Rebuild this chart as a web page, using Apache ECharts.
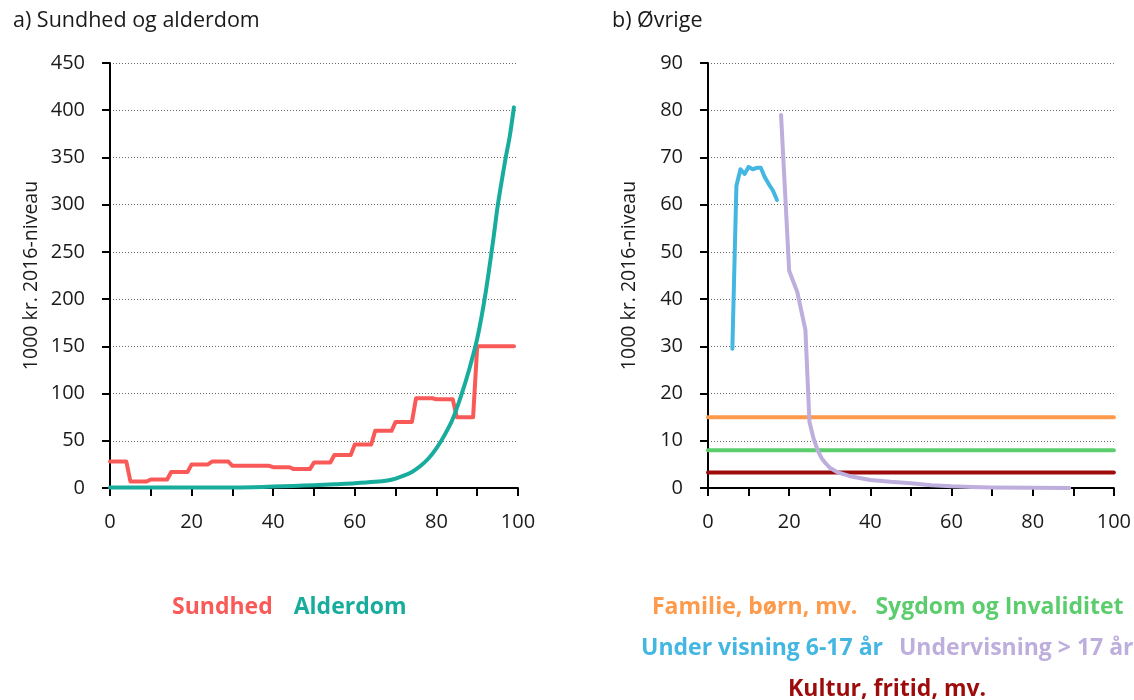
<!DOCTYPE html>
<html>
<head>
<meta charset="utf-8">
<script src="https://cdn.jsdelivr.net/npm/echarts@6/dist/echarts.min.js"></script>
<style>
  html, body { margin: 0; padding: 0; background: #ffffff; }
  #chart { width: 1134px; height: 700px; }
</style>
</head>
<body>
<div id="chart"></div>
<script>
// ---- Panel a) Sundhed og alderdom ----
// Health spending per person, by 5-year age group (first age of each group)
const sundhedGroupStart = [0, 5, 10, 15, 20, 25, 30, 35, 40, 45, 50, 55, 60, 65, 70, 75, 80, 85, 90, 95];
const sundhedValues     = [28, 7, 9, 17, 25, 28, 23.5, 23.5, 22, 20, 27, 35, 46, 60.5, 70, 95, 94, 75, 150, 150];

// Elderly care spending per person by age
const alderdomAges   = [0, 10, 20, 30, 35, 40, 45, 50, 55, 60, 65, 68, 70, 72, 74, 76, 78, 80, 82, 84, 86, 88, 90, 92, 94, 95, 96, 97, 98, 99];
const alderdomValues = [0.4, 0.4, 0.6, 0.6, 0.9, 1.5, 2.2, 3, 4, 5, 6.5, 8, 10, 13, 17, 23, 31, 42, 56, 73, 97, 125, 158, 205, 265, 298, 325, 350, 373, 403];

// ---- Panel b) Øvrige ----
const flatAges        = [0, 100];
const familieValues   = [15, 15];
const sygdomValues    = [8, 8];
const kulturValues    = [3.3, 3.3];

const under617Ages    = [6, 7, 8, 9, 10, 11, 12, 13, 14, 15, 16, 17];
const under617Values  = [29.5, 64, 67.5, 66.5, 68, 67.5, 67.8, 67.8, 65.8, 64.3, 63, 61];

const over17Ages      = [18, 20, 22, 24, 25, 26, 27, 28, 29, 30, 32, 35, 40, 45, 50, 55, 60, 65, 70, 80, 89];
const over17Values    = [79, 46, 41.5, 33.5, 14, 10.5, 8, 6.3, 5.2, 4.3, 3.3, 2.5, 1.7, 1.3, 1.0, 0.6, 0.35, 0.2, 0.1, 0.05, 0];

// Axis ticks
const xMax = 100, xStep = 10;
const yMaxA = 450, yStepA = 50;
const yMaxB = 90, yStepB = 10;

const FONT = '"Open Sans", "Noto Sans", sans-serif';
const COLORS = {
  sundhed: '#F95A58',
  alderdom: '#18AC9D',
  familie: '#FD9A4B',
  sygdom: '#5BCD6D',
  under617: '#44B6E2',
  over17: '#BDAEDD',
  kultur: '#9D0B0B'
};

function zip(xs, ys) { return xs.map((x, i) => [x, ys[i]]); }

// Step series: each 5-year group holds its value from first to last age
const sundhedData = [];
sundhedGroupStart.forEach((a, i) => {
  sundhedData.push([a, sundhedValues[i]]);
  sundhedData.push([a + 4, sundhedValues[i]]);
});

// Centre a text-only legend row around a given x
const LEGEND_SIZE = 23;
const measureCtx = document.createElement('canvas').getContext('2d');
const legendFont = 'bold ' + LEGEND_SIZE + 'px ' + FONT;
function legendLeft(names, gap, centre) {
  measureCtx.font = legendFont;
  let w = 0;
  names.forEach((n, i) => { w += 5 + measureCtx.measureText(n).width + (i ? gap : 0); });
  return Math.round(centre - w / 2);
}
function legendRow(names, gap, centre, top) {
  return {
    show: true,
    data: names.map(n => ({ name: n, icon: 'none', textStyle: { color: colorOf[n] } })),
    left: legendLeft(names, gap, centre),
    top: top,
    orient: 'horizontal',
    itemWidth: 0,
    itemHeight: 24,
    itemGap: gap,
    selectedMode: false,
    padding: 0,
    textStyle: { fontFamily: FONT, fontWeight: 'bold', fontSize: LEGEND_SIZE }
  };
}

const names = {
  sundhed: 'Sundhed', alderdom: 'Alderdom',
  familie: 'Familie, børn, mv.', sygdom: 'Sygdom og Invaliditet',
  under617: 'Under visning 6-17 år', over17: 'Undervisning > 17 år',
  kultur: 'Kultur, fritid, mv.'
};
const colorOf = {};
Object.keys(names).forEach(k => { colorOf[names[k]] = COLORS[k]; });

function xAxis(gridIndex) {
  return {
    type: 'value', gridIndex, min: 0, max: xMax, interval: xStep,
    axisLine: { show: true, onZero: false, lineStyle: { color: '#000', width: 2 } },
    axisTick: { show: true, inside: false, length: 8, lineStyle: { color: '#000', width: 2 } },
    axisLabel: {
      margin: 24, color: '#1a1a1a', fontFamily: FONT, fontSize: 20,
      formatter: v => (v % 20 === 0 ? String(v) : '')
    },
    splitLine: { show: false }
  };
}
function yAxis(gridIndex, max, step) {
  return {
    type: 'value', gridIndex, min: 0, max, interval: step,
    name: '1000 kr. 2016-niveau', nameLocation: 'middle', nameGap: 69, nameRotate: 90,
    nameTextStyle: { color: '#1a1a1a', fontFamily: FONT, fontSize: 19.5 },
    axisLine: { show: true, onZero: false, lineStyle: { color: '#000', width: 2 } },
    axisTick: { show: true, inside: false, length: 8, lineStyle: { color: '#000', width: 2 } },
    axisLabel: { margin: 25, color: '#1a1a1a', fontFamily: FONT, fontSize: 20 },
    splitLine: { show: true, lineStyle: { color: '#666', width: 1, type: [1, 2] } }
  };
}
function line(name, key, xIndex, data, extra) {
  return Object.assign({
    name, type: 'line', xAxisIndex: xIndex, yAxisIndex: xIndex,
    data, showSymbol: false, symbol: 'none', silent: true, animation: false,
    lineStyle: { color: COLORS[key], width: 4, cap: 'round', join: 'round' },
    itemStyle: { color: COLORS[key] }
  }, extra || {});
}

const chart = echarts.init(document.getElementById('chart'), null, { renderer: 'canvas' });
chart.setOption({
  backgroundColor: '#ffffff',
  animation: false,
  title: [
    { text: 'a) Sundhed og alderdom', left: 8, top: 5, textStyle: { fontFamily: FONT, fontWeight: 'normal', fontSize: 21.5, color: '#1a1a1a' } },
    { text: 'b) Øvrige', left: 607, top: 5, textStyle: { fontFamily: FONT, fontWeight: 'normal', fontSize: 21.5, color: '#1a1a1a' } }
  ],
  grid: [
    { left: 110, top: 63, width: 408, height: 425 },
    { left: 708, top: 63, width: 408, height: 425 }
  ],
  xAxis: [xAxis(0), xAxis(1)],
  yAxis: [yAxis(0, yMaxA, yStepA), yAxis(1, yMaxB, yStepB)],
  legend: [
    legendRow([names.sundhed, names.alderdom], 16, 287, 595),
    legendRow([names.familie, names.sygdom], 13, 885, 595),
    legendRow([names.under617, names.over17], 11, 885, 636),
    legendRow([names.kultur], 10, 885, 677)
  ],
  series: [
    line(names.sundhed, 'sundhed', 0, sundhedData),
    line(names.alderdom, 'alderdom', 0, zip(alderdomAges, alderdomValues), { smooth: 0.3 }),
    line(names.familie, 'familie', 1, zip(flatAges, familieValues)),
    line(names.sygdom, 'sygdom', 1, zip(flatAges, sygdomValues)),
    line(names.kultur, 'kultur', 1, zip(flatAges, kulturValues)),
    line(names.under617, 'under617', 1, zip(under617Ages, under617Values)),
    line(names.over17, 'over17', 1, zip(over17Ages, over17Values))
  ]
});
</script>
</body>
</html>
